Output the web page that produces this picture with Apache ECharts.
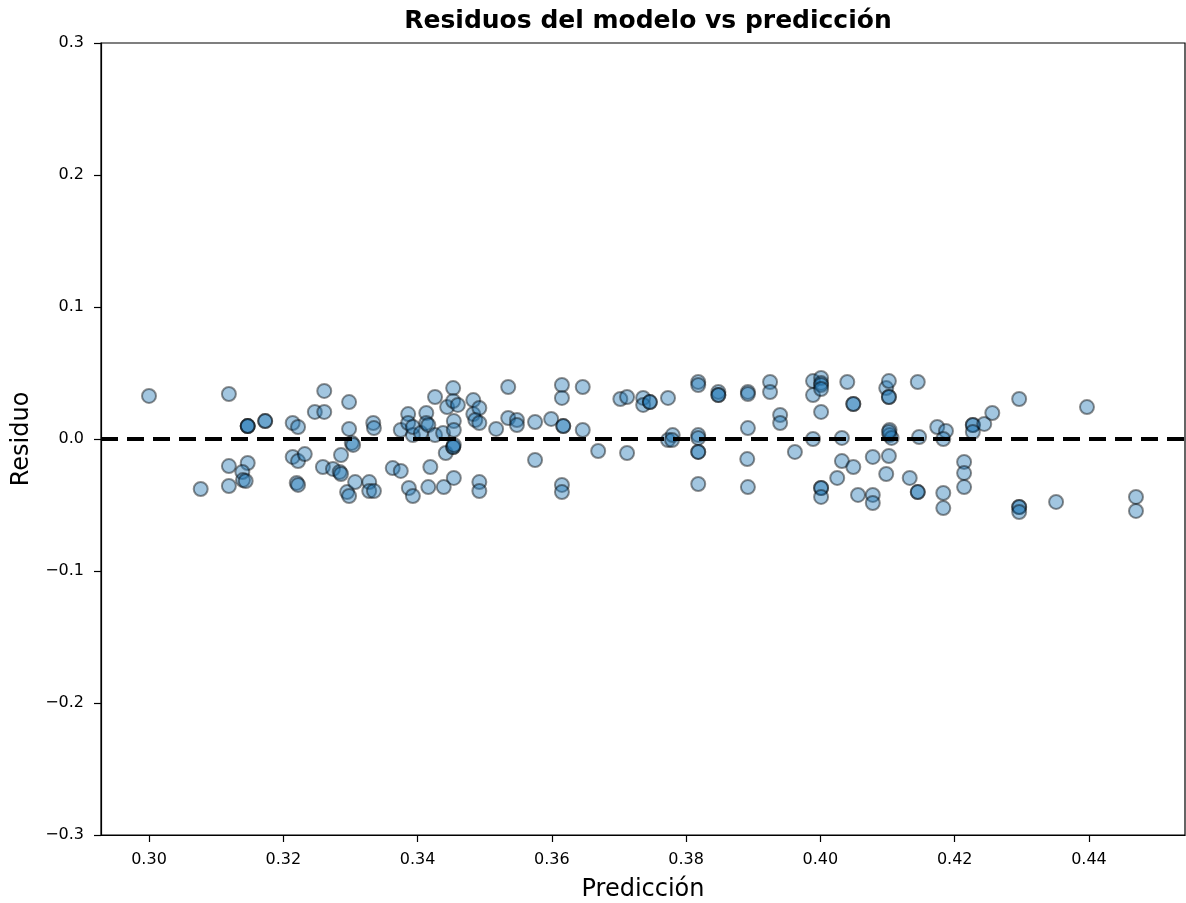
<!DOCTYPE html>
<html>
<head>
<meta charset="utf-8">
<script src="https://cdn.jsdelivr.net/npm/echarts@6/dist/echarts.min.js"></script>
<style>
html,body{margin:0;padding:0;background:#fff;}
#chart{width:1186px;height:903px;}
</style>
</head>
<body>
<div id="chart"></div>
<script>
var prediccion = [
0.3000,0.3077,0.3119,0.3119,0.3119,0.3147,0.3147,0.3147,0.3173,0.3173,0.3147,0.3139,0.3140,0.3144,
0.3214,0.3222,0.3214,0.3222,0.3232,0.3220,0.3222,0.3247,0.3261,0.3261,0.3259,
0.3298,0.3298,0.3302,0.3304,0.3286,0.3274,0.3284,0.3286,0.3295,0.3298,0.3307,0.3328,0.3328,0.3335,
0.3334,0.3335,0.3363,0.3375,0.3375,0.3386,0.3386,0.3393,0.3393,0.3387,0.3393,0.3405,0.3413,0.3413,0.3416,
0.3416,0.3419,0.3426,0.3426,0.3439,0.3442,0.3444,0.3438,0.3453,0.3453,0.3460,0.3454,0.3454,0.3453,0.3453,
0.3454,0.3454,0.3483,0.3483,0.3492,0.3486,0.3492,0.3492,0.3492,0.3517,0.3535,0.3535,
0.3548,0.3548,0.3575,0.3599,0.3615,0.3615,0.3646,0.3617,0.3617,0.3646,0.3575,0.3615,0.3615,0.3669,
0.3702,0.3712,0.3712,0.3736,0.3736,0.3746,0.3746,0.3773,0.3773,0.3780,0.3779,0.3818,0.3818,0.3818,0.3818,
0.3818,0.3818,0.3818,
0.3848,0.3848,0.3848,0.3892,0.3892,0.3925,0.3925,0.3940,0.3940,0.3892,0.3891,0.3892,0.3962,0.3989,0.3989,
0.4001,0.4001,0.4001,0.4001,0.4001,0.3989,0.4001,0.4001,0.4001,0.4025,0.4032,0.4032,0.4040,0.4049,0.4049,
0.4049,0.4056,0.4078,0.4078,0.4078,0.4098,0.4098,0.4102,0.4102,0.4102,0.4103,0.4103,0.4106,0.4102,0.4102,
0.4145,0.4174,0.4187,0.4147,0.4183,0.4227,0.4227,0.4227,0.4244,0.4256,0.4296,0.4397,0.4214,0.4214,0.4214,
0.4133,0.4145,0.4145,0.4183,0.4183,0.4296,0.4296,0.4296,0.4351,0.4470,0.4470
];
var residuo = [
0.0326,-0.0379,0.0341,-0.0205,-0.0356,0.0098,0.0098,0.0098,0.0136,0.0136,-0.0182,-0.0250,-0.0311,-0.0318,
0.0121,0.0091,-0.0136,-0.0167,-0.0114,-0.0333,-0.0348,0.0205,0.0364,0.0205,-0.0212,
0.0280,0.0076,-0.0030,-0.0045,-0.0121,-0.0227,-0.0250,-0.0265,-0.0402,-0.0432,-0.0326,-0.0326,-0.0394,-0.0394,
0.0121,0.0083,-0.0220,-0.0242,0.0068,0.0189,0.0121,0.0030,0.0091,-0.0371,-0.0432,0.0045,0.0197,0.0121,0.0106,
-0.0364,-0.0212,0.0318,0.0030,-0.0364,-0.0106,0.0242,0.0045,0.0386,0.0288,0.0258,0.0136,0.0068,-0.0061,-0.0061,
-0.0045,-0.0295,0.0295,0.0189,0.0235,0.0144,0.0121,-0.0326,-0.0394,0.0076,0.0394,0.0159,
0.0144,0.0106,0.0129,0.0152,0.0409,0.0311,0.0394,0.0098,0.0098,0.0068,-0.0159,-0.0348,-0.0402,-0.0091,
0.0303,0.0318,-0.0106,0.0311,0.0258,0.0280,0.0280,0.0311,-0.0008,0.0030,-0.0008,0.0432,0.0409,0.0030,0.0008,
-0.0098,-0.0098,-0.0341,
0.0356,0.0333,0.0333,0.0356,0.0341,0.0432,0.0356,0.0182,0.0121,0.0083,-0.0152,-0.0364,-0.0098,0.0439,0.0333,
0.0462,0.0424,0.0409,0.0379,0.0205,0.0000,-0.0371,-0.0371,-0.0439,-0.0295,0.0008,-0.0167,0.0432,0.0265,0.0265,
-0.0212,-0.0424,-0.0136,-0.0424,-0.0485,-0.0265,0.0386,0.0439,0.0318,0.0318,0.0068,0.0030,0.0008,0.0053,-0.0129,
0.0432,0.0091,0.0061,0.0015,0.0000,0.0106,0.0106,0.0053,0.0114,0.0197,0.0303,0.0242,-0.0174,-0.0258,-0.0364,
-0.0295,-0.0402,-0.0402,-0.0409,-0.0523,-0.0515,-0.0515,-0.0553,-0.0477,-0.0439,-0.0545
];
var xTicks = [0.30,0.32,0.34,0.36,0.38,0.40,0.42,0.44];
var yTicks = [-0.3,-0.2,-0.1,0.0,0.1,0.2,0.3];
var titulo = 'Residuos del modelo vs predicción';
var xNombre = 'Predicción';
var yNombre = 'Residuo';

var puntos = prediccion.map(function(x,i){return [x, residuo[i]];});
var FONT = 'DejaVu Sans';
var chart = echarts.init(document.getElementById('chart'), null, {renderer:'canvas'});
chart.setOption({
  animation:false,
  backgroundColor:'#fff',
  title:{
    text:titulo, left:643, top:4, textAlign:'center',
    textStyle:{fontFamily:FONT,fontWeight:'bold',fontSize:25,color:'#000'}
  },
  grid:{left:101,right:1,top:43,bottom:68,outerBoundsMode:'none',containLabel:false,
    show:true,borderColor:'#000',borderWidth:1.2,backgroundColor:'transparent'},
  xAxis:{
    type:'value', min:0.29285, max:0.4543,
    name:xNombre, nameLocation:'middle', nameGap:43,
    nameTextStyle:{fontFamily:FONT,fontSize:24,color:'#000'},
    axisLine:{show:true,onZero:false,lineStyle:{color:'#000',width:1.2}},
    axisTick:{show:true,length:7,lineStyle:{color:'#000',width:1.2},customValues:xTicks},
    axisLabel:{fontFamily:FONT,fontSize:16,color:'#000',margin:17,customValues:xTicks,
      formatter:function(v){return v.toFixed(2);}},
    splitLine:{show:false}
  },
  yAxis:{
    type:'value', min:-0.3, max:0.3,
    name:yNombre, nameLocation:'middle', nameGap:66, nameRotate:90,
    nameTextStyle:{fontFamily:FONT,fontSize:24,color:'#000'},
    axisLine:{show:true,onZero:false,lineStyle:{color:'#000',width:1.2}},
    axisTick:{show:true,length:7,lineStyle:{color:'#000',width:1.2},customValues:yTicks},
    axisLabel:{fontFamily:FONT,fontSize:16,color:'#000',margin:17,customValues:yTicks,
      formatter:function(v){var s=Math.abs(v).toFixed(1);return v< -1e-9?'\u2212'+s:s;}},
    splitLine:{show:false}
  },
  series:[{
    type:'scatter',
    data:puntos,
    symbol:'circle',
    symbolSize:14,
    itemStyle:{color:'rgba(31,119,180,0.52)',borderColor:'rgba(0,0,0,0.55)',borderWidth:2},
    emphasis:{disabled:true},
    markLine:{
      silent:true, symbol:['none','none'], label:{show:false},
      lineStyle:{color:'#000',width:4,type:[17,9]},
      data:[{yAxis:0}],
      z:10
    }
  }]
});
</script>
</body>
</html>
